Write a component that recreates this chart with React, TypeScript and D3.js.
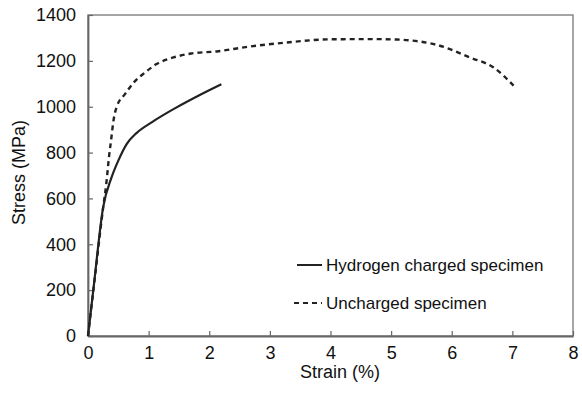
import React, { useRef, useEffect } from 'react';
import * as d3 from 'd3';

// values
const xTicks = [0, 1, 2, 3, 4, 5, 6, 7, 8];
const yTicks = [0, 200, 400, 600, 800, 1000, 1200, 1400];

const chargedStrain = [0, 0.1, 0.25, 0.39, 0.5, 0.64, 0.8, 1.05, 1.44, 1.82, 2.2];
const chargedStress = [0, 230, 562, 693, 765, 838, 885, 932, 994, 1048, 1098];

const unchargedStrain = [0, 0.1, 0.25, 0.3, 0.35, 0.38, 0.42, 0.47, 0.61, 0.78, 0.94, 1.13, 1.41, 1.7, 2.15, 2.6, 3.28, 4.0, 4.65, 5.1, 5.48, 5.75, 6.3, 6.69, 7.02];
const unchargedStress = [0, 225, 560, 660, 790, 852, 939, 997, 1055, 1113, 1149, 1186, 1215, 1232, 1242, 1260, 1280, 1294, 1295, 1293, 1284, 1270, 1215, 1171, 1092];

const legendLabels = ['Hydrogen charged specimen', 'Uncharged specimen'];

const FONT = "'Liberation Sans', Arial, sans-serif";

function StressStrain() {
    const ref = useRef<SVGSVGElement>(null);

    useEffect(() => {
        const width = 582, height = 395;
        const margin = { top: 15, right: 9, bottom: 59, left: 88 };
        const w = width - margin.left - margin.right;
        const h = height - margin.top - margin.bottom;

        const root = d3.select(ref.current);
        root.selectAll('*').remove();
        const svg = root.append('g')
            .attr('transform', `translate(${margin.left},${margin.top})`);

        const x = d3.scaleLinear().domain([0, 8]).range([0, w]);
        const y = d3.scaleLinear().domain([0, 1400]).range([h, 0]);

        // frame (top/right)
        svg.append('rect')
            .attr('x', 0).attr('y', 0)
            .attr('width', w).attr('height', h)
            .attr('fill', 'none')
            .attr('stroke', '#888')
            .attr('stroke-width', 1.5);

        const yAxis = svg.append('g')
            .call(d3.axisLeft(y).tickValues(yTicks).tickFormat(d3.format('d'))
                .tickSizeInner(-5).tickSizeOuter(0).tickPadding(12));
        const xAxis = svg.append('g')
            .attr('transform', `translate(0,${h})`)
            .call(d3.axisBottom(x).tickValues(xTicks).tickFormat(d3.format('d'))
                .tickSizeInner(-5).tickSizeOuter(0).tickPadding(10));

        [yAxis, xAxis].forEach(a => {
            a.select('.domain').attr('stroke', '#666').attr('stroke-width', 1.8);
            a.selectAll('.tick line').attr('stroke', '#666').attr('stroke-width', 1.2);
            a.selectAll('.tick text')
                .attr('fill', '#111')
                .style('font-family', FONT)
                .style('font-size', '18px');
        });

        svg.append('text')
            .attr('x', 252)
            .attr('y', h + 42)
            .attr('text-anchor', 'middle')
            .attr('fill', '#111')
            .style('font-family', FONT)
            .style('font-size', '18px')
            .text('Strain (%)');

        svg.append('text')
            .attr('transform', 'rotate(-90)')
            .attr('x', -h / 2 + 3)
            .attr('y', -63)
            .attr('text-anchor', 'middle')
            .attr('fill', '#111')
            .style('font-family', FONT)
            .style('font-size', '18px')
            .text('Stress (MPa)');

        const line = d3.line<[number, number]>()
            .x(d => x(d[0]))
            .y(d => y(d[1]))
            .curve(d3.curveMonotoneX);

        const charged = chargedStrain.map((s, i) => [s, chargedStress[i]] as [number, number]);
        const uncharged = unchargedStrain.map((s, i) => [s, unchargedStress[i]] as [number, number]);

        svg.append('path')
            .datum(uncharged)
            .attr('d', line)
            .attr('fill', 'none')
            .attr('stroke', '#222')
            .attr('stroke-width', 2.4)
            .attr('stroke-dasharray', '5,4');

        svg.append('path')
            .datum(charged)
            .attr('d', line)
            .attr('fill', 'none')
            .attr('stroke', '#222')
            .attr('stroke-width', 2.2);

        // legend
        const legend = svg.append('g').attr('transform', `translate(${297 - margin.left},${265 - margin.top})`);
        legendLabels.forEach((label, i) => {
            const g = legend.append('g').attr('transform', `translate(0,${i * 38})`);
            g.append('line')
                .attr('x1', i === 0 ? 0 : -3).attr('x2', 25)
                .attr('y1', 0).attr('y2', 0)
                .attr('stroke', '#222')
                .attr('stroke-width', 2)
                .attr('stroke-dasharray', i === 0 ? null : '5,4');
            g.append('text')
                .attr('x', 29)
                .attr('y', 0)
                .attr('dy', '0.35em')
                .attr('fill', '#111')
                .style('font-family', FONT)
                .style('font-size', '17px')
                .text(label);
        });
    }, []);

    return (
        <svg ref={ref} width={582} height={395}
            style={{ position: 'absolute', left: 0, top: 0, background: '#fff' }} />
    );
}

export default function App() {
    return <StressStrain />;
}
